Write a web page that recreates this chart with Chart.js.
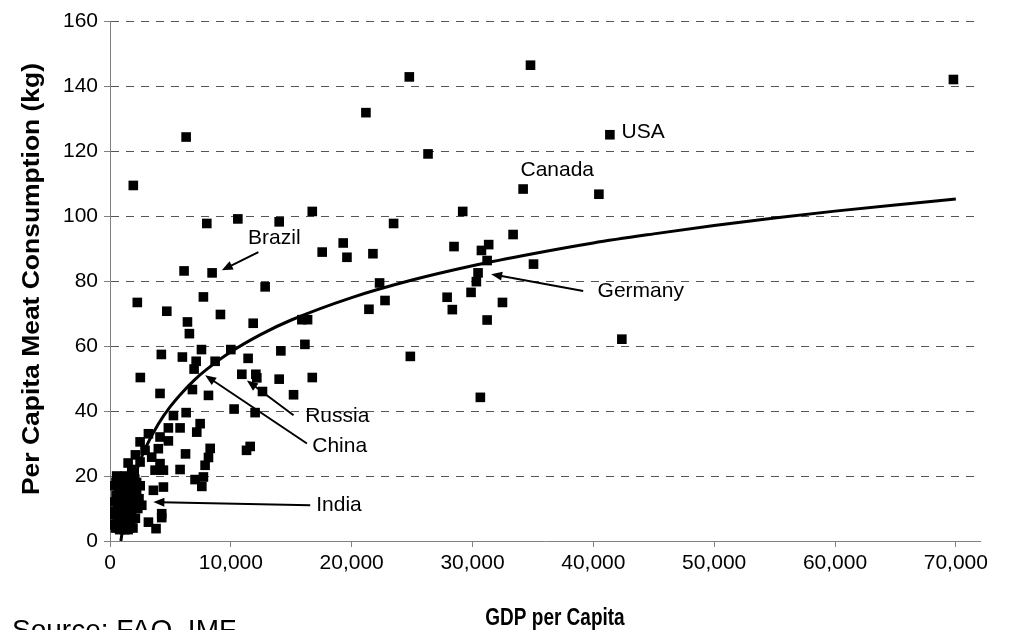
<!DOCTYPE html>
<html>
<head>
<meta charset="utf-8">
<script src="https://cdn.jsdelivr.net/npm/chart.js@4/dist/chart.umd.min.js"></script>
<style>
  html, body { margin: 0; padding: 0; background: #fff; }
  #wrap { width: 1010px; height: 630px; }
</style>
</head>
<body>
<div id="wrap"><canvas id="chart" width="1010" height="630"></canvas></div>
<script>
// GDP per capita (USD) of each country
const gdp = [
  6300, 21180, 1930, 24770, 34800, 26320, 34190, 40460, 41370, 69800,
  29190, 33360, 28470, 31340, 30740, 31210, 35050, 30460, 30320, 29880,
  27900, 28330, 32480, 31210, 42360, 30650, 24855, 16740, 23470, 19300,
  17560, 19610, 21760, 22310, 22760, 21430, 15880, 16350, 16130, 8010,
  10580, 14000, 6130, 8450, 2260, 7730, 12840, 4700, 9140, 6410,
  6570, 11850, 4250, 5990, 7570, 10000, 7130, 6960, 8700, 11430,
  14140, 2510, 10910, 12070, 12150, 14000, 16740, 4140, 6820, 8150,
  12620, 15190, 10270, 12010, 5250, 6300, 4830, 5800, 7460, 7180,
  3180, 2490, 4140, 4830, 4000, 2900, 6250, 8290, 8150, 7870,
  11300, 11600, 2490, 3450, 4140, 5800, 3730, 4420, 7040, 7600,
  7730, 3590, 4420, 3180, 3810, 4280, 4280, 2630,
  250, 300, 350, 400, 450, 500, 550, 600, 650, 700,
  750, 800, 850, 900, 950, 1000, 1050, 1100, 1150, 1200,
  1250, 1300, 1350, 1400, 1450, 1500, 1550, 1600, 1650, 1700,
  1750, 1800, 1850, 1900, 2000, 2050, 2100, 2200, 2300, 2400,
  600, 1000, 1300, 1600, 2000, 1800, 1200, 700, 1500, 2100,
  300, 500, 900, 1100, 1400, 1700, 2200, 800, 1900, 2500
];
// per capita meat consumption (kg), same order
const meat = [
  124.3, 131.8, 109.4, 142.8, 146.4, 119.1, 108.3, 106.7, 125.0, 142.0,
  101.4, 94.3, 90.6, 91.2, 89.4, 86.3, 85.2, 82.5, 79.8, 76.5,
  75.0, 71.2, 73.4, 68.0, 62.1, 44.2, 56.8, 101.4, 97.7, 91.7,
  88.9, 87.3, 88.4, 79.4, 74.0, 71.3, 68.1, 68.1, 60.5, 97.7,
  99.1, 98.2, 83.1, 82.5, 73.4, 75.1, 78.2, 70.7, 69.7, 67.4,
  63.8, 67.0, 57.4, 56.6, 58.9, 58.9, 55.3, 52.9, 55.3, 56.2,
  58.5, 50.3, 51.3, 51.3, 50.2, 49.8, 50.3, 45.4, 46.6, 44.8,
  46.0, 45.0, 40.6, 39.5, 38.6, 39.5, 34.8, 34.8, 36.1, 33.5,
  33.0, 30.5, 32.0, 30.8, 28.4, 27.9, 26.8, 28.5, 25.7, 23.3,
  27.9, 29.1, 24.3, 25.8, 23.8, 22.0, 21.8, 21.8, 18.9, 16.8,
  19.7, 15.6, 16.6, 5.8, 3.8, 8.4, 7.2, 11.0,
  5, 12, 17, 9, 4, 14, 20, 7, 11, 16,
  4, 19, 9, 13, 6, 17, 4, 11, 15, 8,
  20, 5, 13, 17, 9, 3.5, 15, 11, 19, 6,
  14, 9, 17, 4, 12, 19, 7, 15, 10, 13,
  14, 8, 18, 4, 21, 22, 3.5, 4, 24, 26.5,
  8, 18, 16, 19, 7, 12, 18, 3.5, 14, 17
];

// logarithmic trend line
const trendGdp = [900, 1000, 1250, 1500, 2000, 2500, 3000, 4000, 5000, 6000, 7000, 8000,
  10000, 12500, 15000, 20000, 25000, 30000, 35000, 40000, 45000, 50000, 55000, 60000, 65000, 70000];
const trendMeat = [0, 2.5, 7.9, 12.3, 19.3, 24.7, 29.1, 36.0, 41.4, 45.8, 49.6, 52.8,
  58.2, 63.6, 68.0, 74.9, 80.3, 84.7, 88.4, 91.7, 94.5, 97.1, 99.4, 101.5, 103.4, 105.2];

const xTicks = [0, 10000, 20000, 30000, 40000, 50000, 60000, 70000];
const yTicks = [0, 20, 40, 60, 80, 100, 120, 140, 160];

// country callouts: label position and optional arrow (data units)
const callouts = [
  { text: 'USA',     at: [42340, 125.8] },
  { text: 'Canada',  at: [33970, 114.0] },
  { text: 'Brazil',  at: [11430, 93.1], from: [12280, 88.9], to: [9250, 83.3] },
  { text: 'Germany', at: [40350, 76.8], from: [39160, 76.9], to: [31540, 82.1] },
  { text: 'Russia',  at: [16150, 38.4], from: [15190, 38.7], to: [11330, 49.4] },
  { text: 'China',   at: [16740, 29.1], from: [16300, 30.0], to: [7870, 51.0] },
  { text: 'India',   at: [17070, 11.0], from: [16570, 11.0], to: [3590, 12.0] }
];

const FONT = '"Liberation Sans", Arial, sans-serif';

const points = gdp.map((g, i) => ({ x: g, y: meat[i] }));
const trend = trendGdp.map((g, i) => ({ x: g, y: trendMeat[i] }));

function arrow(ctx, x1, y1, x2, y2) {
  const ang = Math.atan2(y2 - y1, x2 - x1);
  const len = 11, wid = 4.5;
  ctx.beginPath();
  ctx.moveTo(x1, y1);
  ctx.lineTo(x2 - Math.cos(ang) * len * 0.7, y2 - Math.sin(ang) * len * 0.7);
  ctx.stroke();
  ctx.beginPath();
  ctx.moveTo(x2, y2);
  ctx.lineTo(x2 - Math.cos(ang) * len + Math.sin(ang) * wid, y2 - Math.sin(ang) * len - Math.cos(ang) * wid);
  ctx.lineTo(x2 - Math.cos(ang) * len - Math.sin(ang) * wid, y2 - Math.sin(ang) * len + Math.cos(ang) * wid);
  ctx.closePath();
  ctx.fill();
}

const extras = {
  id: 'extras',
  afterDraw(chart) {
    const { ctx, scales: { x, y } } = chart;
    ctx.save();
    ctx.fillStyle = '#000';
    ctx.strokeStyle = '#000';
    ctx.lineWidth = 2;
    ctx.font = '21px ' + FONT;
    ctx.textBaseline = 'middle';
    ctx.textAlign = 'left';
    callouts.forEach(c => {
      ctx.fillText(c.text, x.getPixelForValue(c.at[0]), y.getPixelForValue(c.at[1]));
      if (c.from) {
        arrow(ctx, x.getPixelForValue(c.from[0]), y.getPixelForValue(c.from[1]),
          x.getPixelForValue(c.to[0]), y.getPixelForValue(c.to[1]));
      }
    });

    // axis titles (condensed bold like the original)
    ctx.textAlign = 'center';
    ctx.textBaseline = 'alphabetic';
    ctx.save();
    ctx.translate(555, 625);
    ctx.scale(1, 1.25);
    ctx.font = 'bold 19px ' + FONT;
    ctx.fillText('GDP per Capita', 0, 0);
    ctx.restore();

    ctx.save();
    ctx.translate(39, 279);
    ctx.rotate(-Math.PI / 2);
    ctx.scale(1.15, 1);
    ctx.font = 'bold 23px ' + FONT;
    ctx.fillText('Per Capita Meat Consumption (kg)', 0, 0);
    ctx.restore();

    ctx.textAlign = 'left';
    ctx.font = '28px ' + FONT;
    ctx.fillText('Source: FAO, IMF', 12, 639);
    ctx.restore();
  }
};

new Chart(document.getElementById('chart'), {
  type: 'scatter',
  data: {
    datasets: [
      {
        type: 'line',
        data: trend,
        borderColor: '#000',
        borderWidth: 3,
        pointRadius: 0,
        cubicInterpolationMode: 'monotone',
        fill: false
      },
      {
        data: points,
        pointStyle: 'rect',
        pointRadius: 6.8,
        backgroundColor: '#000',
        borderWidth: 0
      }
    ]
  },
  options: {
    responsive: false,
    animation: false,
    devicePixelRatio: 1,
    layout: { padding: { left: 0, right: 30, top: 21, bottom: 0 } },
    plugins: { legend: { display: false }, tooltip: { enabled: false } },
    scales: {
      x: {
        type: 'linear',
        min: 0,
        max: 72000,
        afterBuildTicks: s => { s.ticks = xTicks.map(v => ({ value: v })); },
        afterFit: s => { s.height = 89; },
        ticks: {
          color: '#000',
          font: { family: FONT, size: 21 },
          padding: 4,
          maxRotation: 0,
          callback: v => v.toLocaleString('en-US')
        },
        grid: { drawOnChartArea: false, drawTicks: true, tickLength: 6, tickColor: '#808080' },
        border: { color: '#808080', width: 1 }
      },
      y: {
        min: 0,
        max: 160,
        afterBuildTicks: s => { s.ticks = yTicks.map(v => ({ value: v })); },
        afterFit: s => { s.width = 110; },
        ticks: {
          color: '#000',
          font: { family: FONT, size: 21 },
          padding: 6
        },
        grid: {
          color: c => (c.tick && c.tick.value === 0) ? 'rgba(0,0,0,0)' : '#555',
          tickColor: '#808080',
          tickLength: 6,
          lineWidth: 1
        },
        border: { color: '#808080', width: 1, dash: [8, 7] }
      }
    }
  },
  plugins: [extras]
});
</script>
</body>
</html>
